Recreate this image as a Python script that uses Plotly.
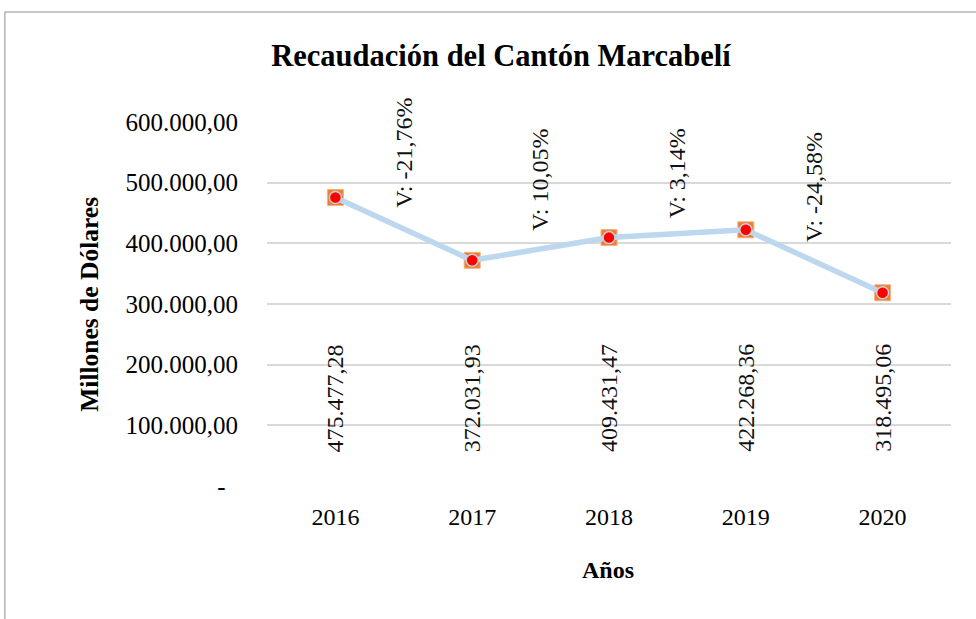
import plotly.graph_objects as go

# ---- data ----
years = ["2016", "2017", "2018", "2019", "2020"]
recaudacion = [475477.28, 372031.93, 409431.47, 422268.36, 318495.06]
variacion_labels = ["V: -21,76%", "V: 10,05%", "V: 3,14%", "V: -24,58%"]
y_tick_values = [0, 100000, 200000, 300000, 400000, 500000, 600000]
y_tick_labels = ["-\u00a0\u00a0", "100.000,00", "200.000,00", "300.000,00",
                 "400.000,00", "500.000,00", "600.000,00"]

# label placement (layout only)
value_label_y = 145000
variacion_label_y = [549000, 504000, 516000, 493000]

FONT = "Liberation Serif, Times New Roman, serif"


def fmt_es(v):
    s = f"{v:,.2f}"
    return s.replace(",", "X").replace(".", ",").replace("X", ".")


x = list(range(len(years)))

fig = go.Figure()
fig.add_trace(go.Scatter(
    x=x, y=recaudacion, mode="markers",
    marker=dict(symbol="square", size=16, color="#ED7D31",
                line=dict(color="#F4B183", width=1)),
    hoverinfo="skip", showlegend=False))
fig.add_trace(go.Scatter(
    x=x, y=recaudacion, mode="lines",
    line=dict(color="#BDD7EE", width=5.5),
    showlegend=False))
fig.add_trace(go.Scatter(
    x=x, y=recaudacion, mode="markers",
    marker=dict(symbol="circle", size=12, color="#FF0000",
                line=dict(color="#C9CFDA", width=1.5)),
    showlegend=False))

annotations = []
for i, v in enumerate(recaudacion):
    annotations.append(dict(
        x=i, y=value_label_y, xref="x", yref="y", text=fmt_es(v),
        textangle=-90, showarrow=False, xanchor="center", yanchor="middle",
        font=dict(family=FONT, size=24, color="#111")))
for i, t in enumerate(variacion_labels):
    annotations.append(dict(
        x=i + 0.5, y=variacion_label_y[i], xref="x", yref="y", text=t,
        textangle=-90, showarrow=False, xanchor="center", yanchor="middle",
        font=dict(family=FONT, size=24, color="#111")))

# axis titles
annotations.append(dict(
    x=-0.2606, y=0.5, xref="paper", yref="paper", text="<b>Millones de Dólares</b>",
    textangle=-90, showarrow=False, xanchor="center", yanchor="middle",
    font=dict(family=FONT, size=25.5, color="#000")))
annotations.append(dict(
    x=0.4985, y=(486 - 570) / 364, xref="paper", yref="paper", text="<b>Años</b>",
    showarrow=False, xanchor="center", yanchor="middle",
    font=dict(family=FONT, size=24, color="#000")))

fig.update_layout(
    width=976, height=619,
    margin=dict(l=266.5, r=24.5, t=122, b=133),
    paper_bgcolor="white", plot_bgcolor="white",
    title=dict(text="<b>Recaudación del Cantón Marcabelí</b>",
               x=501 / 976, xref="container", xanchor="center",
               y=1 - 55 / 619, yref="container", yanchor="middle",
               font=dict(family=FONT, size=30.5, color="#000")),
    annotations=annotations,
    shapes=[dict(type="rect", xref="paper", yref="paper",
                 x0=(4 - 266.5) / 685, x1=1.2, y0=-0.6, y1=(486 - 12) / 364,
                 line=dict(color="#8C8C8C", width=1), fillcolor="rgba(0,0,0,0)",
                 layer="below")],
    xaxis=dict(range=[-0.5, 4.5], tickvals=x, ticktext=years,
               showgrid=False, zeroline=False, showline=False,
               ticks="", ticklabelstandoff=14,
               tickfont=dict(family=FONT, size=24, color="#000")),
    yaxis=dict(range=[0, 600000], tickvals=y_tick_values, ticktext=y_tick_labels,
               showgrid=True, gridcolor="#D9D9D9", gridwidth=2,
               zeroline=False, showline=False, ticks="", ticklabelstandoff=28,
               tickfont=dict(family=FONT, size=25, color="#000")),
)

fig.write_html("out.html", config={"displayModeBar": False},
               post_script="document.body.style.margin='0';")
